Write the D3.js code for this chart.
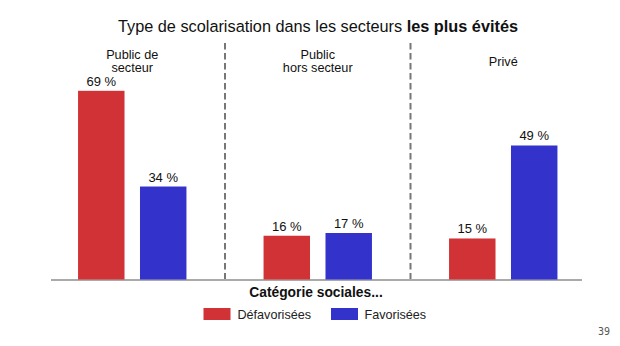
<!DOCTYPE html>
<html><head><meta charset="utf-8">
<script src="https://cdn.jsdelivr.net/npm/d3@7"></script>
<style>body{margin:0;background:#fff}svg{display:block}</style>
</head><body>
<script>
const groups = [["Public de","secteur"],["Public","hors secteur"],["Privé"]];
const groupKeys = ["Public de secteur","Public hors secteur","Privé"];
const series = ["Défavorisées","Favorisées"];
const defavorisees = [69,16,15];
const favorisees = [34,17,49];
const colors = ["#D03236","#3333CC"];

const W=620,H=346;
const svg=d3.select("body").append("svg").attr("width",W).attr("height",H)
  .style("font-family","'Liberation Sans', Arial, sans-serif");

const x=d3.scaleBand().domain(groupKeys).range([39.5,596]).paddingInner(0).paddingOuter(0);
const xs=d3.scaleBand().domain(series).range([x.bandwidth()/2-54.2,x.bandwidth()/2+54.2]).paddingInner(0.25).paddingOuter(0);
const y=d3.scaleLinear().domain([0,69]).range([279.5,90.8]);

// title
const t=svg.append("text").attr("x",318).attr("y",32).attr("text-anchor","middle")
  .attr("font-size",16.3).attr("fill","#111");
t.append("tspan").text("Type de scolarisation dans les secteurs ");
t.append("tspan").attr("font-weight","bold").text("les plus évités");

// dividers
groupKeys.slice(1).forEach(k=>{
  svg.append("line").attr("x1",x(k)).attr("x2",x(k)).attr("y1",43).attr("y2",279)
    .attr("stroke","#777").attr("stroke-width",2).attr("stroke-dasharray","6.5,3.5");
});

// axis line
svg.append("line").attr("x1",51).attr("x2",582).attr("y1",280).attr("y2",280)
  .attr("stroke","#aaa").attr("stroke-width",2);

// group headers
groupKeys.forEach((k,i)=>{
  const lines=groups[i];
  const cx=x(k)+x.bandwidth()/2;
  const y0 = lines.length===1 ? 65.5 : 58.5;
  lines.forEach((l,j)=>{
    svg.append("text").attr("x",cx).attr("y",y0+j*13.7).attr("text-anchor","middle")
      .attr("font-size",12.7).attr("fill","#111").text(l);
  });
});

// bars
const vals=[defavorisees,favorisees];
series.forEach((s,si)=>{
  const g=svg.append("g");
  groupKeys.forEach((k,i)=>{
    const v=vals[si][i];
    const bx=x(k)+xs(s);
    g.append("rect").attr("x",bx).attr("y",y(v)).attr("width",xs.bandwidth())
      .attr("height",y(0)-y(v)).attr("fill",colors[si]);
    g.append("text").attr("x",bx+xs.bandwidth()/2).attr("y",y(v)-5)
      .attr("text-anchor","middle").attr("font-size",13).attr("fill","#111").text(v+" %");
  });
});

// axis title
svg.append("text").attr("x",316).attr("y",297).attr("text-anchor","middle")
  .attr("font-size",13.8).attr("font-weight","bold").attr("fill","#111").text("Catégorie sociales...");

// legend
const leg=[{x:203.5,tx:237.5},{x:331,tx:364.5}];
series.forEach((s,i)=>{
  svg.append("rect").attr("x",leg[i].x).attr("y",308).attr("width",27).attr("height",12).attr("fill",colors[i]);
  svg.append("text").attr("x",leg[i].tx).attr("y",318.5).attr("font-size",12.6).attr("fill","#222").text(s);
});

// page number
svg.append("text").attr("x",610).attr("y",335).attr("text-anchor","end")
  .attr("font-size",10).attr("fill","#555").attr("font-family","'DejaVu Sans Mono', monospace").text("39");
</script>
</body></html>
